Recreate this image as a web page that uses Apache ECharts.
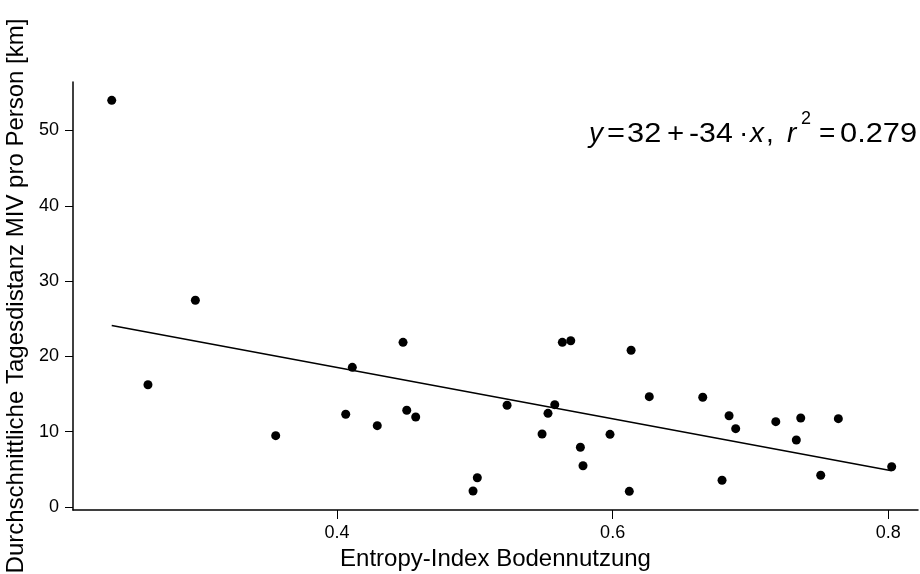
<!DOCTYPE html>
<html>
<head>
<meta charset="utf-8">
<script src="https://cdn.jsdelivr.net/npm/echarts@6/dist/echarts.min.js"></script>
<style>
  html, body { margin: 0; padding: 0; background: #ffffff; }
  #chart { width: 920px; height: 574px; }
</style>
</head>
<body>
<div id="chart"></div>
<script>
// Entropy-Index Bodennutzung (x) vs. Tagesdistanz MIV pro Person [km] (y)
const entropyIndex = [0.2365, 0.2628, 0.2972, 0.3555, 0.4063, 0.4111, 0.4292, 0.4479, 0.4506, 0.4571,
                      0.4987, 0.5018, 0.5234, 0.5488, 0.5531, 0.5580, 0.5635, 0.5696, 0.5766, 0.5785,
                      0.5981, 0.6121, 0.6134, 0.6266, 0.6654, 0.6794, 0.6845, 0.6893, 0.7184, 0.7333,
                      0.7365, 0.7510, 0.7638, 0.8025];
const distanceKm   = [54.0, 16.24, 27.45, 9.47, 12.31, 18.55, 10.80, 21.87, 12.84, 11.95,
                      2.12, 3.89, 13.51, 9.69, 12.44, 13.59, 21.87, 22.08, 7.93, 5.48,
                      9.65, 2.08, 20.81, 14.65, 14.57, 3.55, 12.12, 10.40, 11.33, 8.90,
                      11.82, 4.21, 11.73, 5.35];
// regression line end points
const fitX = [0.2365, 0.8025];
const fitY = [24.1, 4.8];
// tick labels
const xTicks = [0.4, 0.6, 0.8];
const yTicks = [0, 10, 20, 30, 40, 50];

const FONT = '"Liberation Sans", Arial, Helvetica, sans-serif';

const chart = echarts.init(document.getElementById('chart'), null, { renderer: 'canvas' });

const scatterData = entropyIndex.map((x, i) => [x, distanceKm[i]]);
const fitData = fitX.map((x, i) => [x, fitY[i]]);

// equation pieces: [text, left x, italic, superscript, horizontal stretch]
const eqParts = [
  ['y', 589, true, false, 1.0],
  ['=', 607, false, false, 1.1],
  ['32', 627, false, false, 1.1],
  ['+', 667, false, false, 1.05],
  ['-34', 689, false, false, 1.08],
  ['\u00B7', 739, false, false, 1.0],
  ['x', 750, true, false, 1.0],
  [',', 766, false, false, 1.0],
  ['r', 787, true, false, 1.0],
  ['2', 801, false, true, 1.0],
  ['=', 819, false, false, 1.0],
  ['0.279', 840, false, false, 1.1]
];

chart.setOption({
  animation: false,
  backgroundColor: '#ffffff',
  grid: { left: 73, right: 2, top: 82, bottom: 64, containLabel: false, outerBoundsMode: 'none' },
  xAxis: {
    type: 'value',
    min: 0.2084,
    max: 0.8216,
    name: 'Entropy-Index Bodennutzung',
    nameLocation: 'middle',
    nameGap: 34,
    nameTextStyle: { fontFamily: FONT, fontSize: 24, color: '#000' },
    axisLine: { show: true, onZero: false, lineStyle: { color: '#000', width: 1.5 } },
    axisTick: { show: true, length: 9, customValues: xTicks, lineStyle: { color: '#000', width: 1 } },
    axisLabel: {
      customValues: xTicks,
      formatter: v => v.toFixed(1),
      fontFamily: FONT, fontSize: 18, color: '#000', margin: 14
    },
    splitLine: { show: false }
  },
  yAxis: {
    type: 'value',
    min: -0.4,
    max: 56.44,
    name: 'Durchschnittliche Tagesdistanz MIV pro Person [km]',
    nameLocation: 'middle',
    nameGap: 35,
    nameTextStyle: { fontFamily: FONT, fontSize: 24, color: '#000' },
    axisLine: { show: true, onZero: false, lineStyle: { color: '#000', width: 1.5 } },
    axisTick: { show: true, length: 8, customValues: yTicks, lineStyle: { color: '#000', width: 1 } },
    axisLabel: {
      customValues: yTicks,
      fontFamily: FONT, fontSize: 18, color: '#000', margin: 14
    },
    splitLine: { show: false }
  },
  series: [
    {
      type: 'scatter',
      data: scatterData,
      symbol: 'circle',
      symbolSize: 9,
      itemStyle: { color: '#000', opacity: 1 },
      z: 3
    },
    {
      type: 'line',
      data: fitData,
      symbol: 'none',
      lineStyle: { color: '#000', width: 1.5 },
      z: 2
    }
  ],
  graphic: eqParts.map(p => ({
    type: 'text',
    x: p[1],
    y: p[3] ? 119 : 134,
    scaleX: p[4],
    style: {
      text: p[0],
      fontFamily: FONT,
      fontSize: p[3] ? 18 : 28,
      fontStyle: p[2] ? 'italic' : 'normal',
      fill: '#000',
      textAlign: 'left',
      textVerticalAlign: 'middle'
    }
  }))
});
</script>
</body>
</html>
